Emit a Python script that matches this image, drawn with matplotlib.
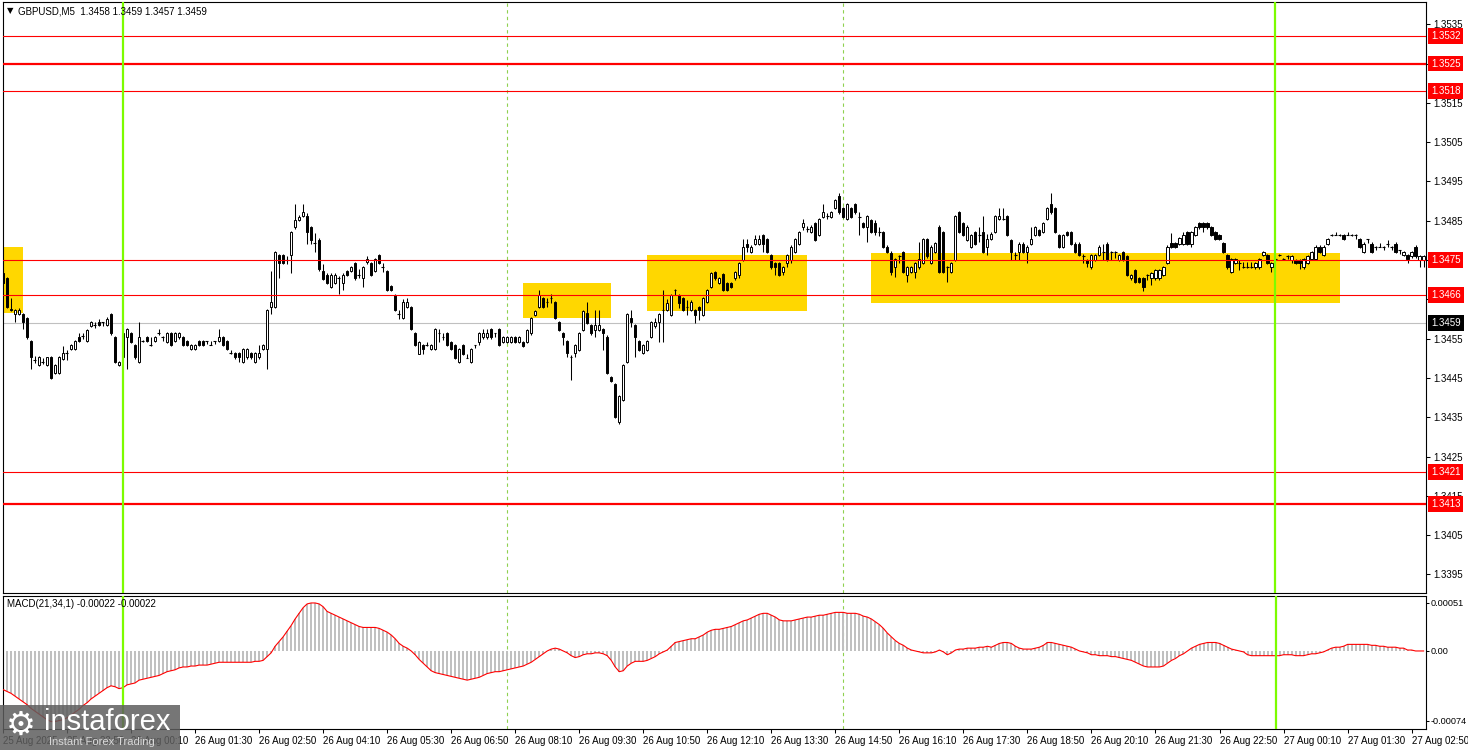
import numpy as np
import matplotlib
matplotlib.use("Agg")
import matplotlib.pyplot as plt
from matplotlib.patches import Rectangle

plt.rcParams['font.family'] = ['Liberation Sans', 'DejaVu Sans']

# GBPUSD M5 candles, prices in pips above 1.3400 (one value per candle)
opens = [
    71.6, 70.3, 62.5, 61.3, 61.3, 61.3, 60.2, 54.4, 49.6, 48.3,
    49.1, 48.3, 50.2, 46.2, 46.2, 49.9, 51.3, 52.3, 52.4, 55.5,
    55.7, 54.4, 58.2, 58.5, 59.2, 59.1, 58.5, 61.3, 55.3, 48.3,
    50.2, 55.3, 56.3, 53.3, 49.1, 54.4, 55.3, 53.4, 54.4, 56.3,
    55.3, 54.2, 56.3, 54.4, 55.3, 55.3, 54.4, 52.4, 52.4, 54.4,
    54.4, 54.4, 53.4, 54.4, 54.4, 55.3, 54.4, 51.3, 51.3, 51.3,
    49.1, 50.2, 51.3, 49.1, 50.2, 52.4, 52.4, 63.1, 63.1, 76.3,
    76.3, 75.0, 76.3, 83.3, 85.3, 86.2, 86.2, 83.3, 79.4, 80.2,
    72.2, 71.3, 68.2, 69.2, 70.3, 69.2, 72.2, 72.2, 74.3, 71.3,
    70.3, 74.4, 74.2, 72.2, 76.3, 73.3, 72.2, 68.4, 66.1, 61.2,
    60.2, 63.1, 63.1, 56.3, 51.1, 53.3, 53.3, 52.3, 52.3, 56.3,
    55.5, 56.3, 54.2, 53.3, 49.1, 53.3, 50.1, 49.1, 53.3, 54.2,
    55.3, 55.3, 57.4, 56.3, 57.4, 54.2, 54.2, 54.2, 55.3, 54.2,
    54.2, 54.2, 56.3, 61.0, 63.1, 65.3, 64.4, 65.3, 64.2, 59.3,
    56.3, 54.4, 50.2, 51.3, 52.1, 57.2, 61.4, 58.5, 57.2, 57.2,
    57.4, 55.5, 45.2, 43.4, 33.9, 39.4, 49.1, 60.2, 58.5, 54.4,
    51.3, 52.1, 55.5, 58.1, 59.1, 62.3, 62.3, 61.0, 67.4, 66.1,
    65.3, 63.1, 62.3, 62.3, 63.1, 61.0, 64.4, 68.2, 72.0, 69.1,
    71.4, 69.1, 69.2, 70.3, 71.2, 75.0, 79.2, 77.1, 79.2, 79.2,
    81.4, 80.3, 76.3, 74.2, 74.2, 72.0, 74.2, 75.0, 77.1, 79.2,
    83.5, 83.0, 82.2, 84.3, 81.4, 86.0, 86.2, 86.0, 88.2, 91.3,
    88.2, 85.4, 88.2, 89.2, 86.0, 84.3, 83.3, 85.2, 84.3, 82.2,
    82.2, 78.4, 76.9, 73.2, 75.9, 77.1, 71.2, 72.0, 72.0, 73.1,
    74.2, 80.3, 74.2, 77.1, 83.5, 82.2, 73.1, 72.0, 75.0, 87.1,
    84.3, 80.1, 78.4, 82.2, 81.4, 82.2, 78.4, 80.3, 82.2, 85.4,
    85.4, 86.2, 80.1, 76.3, 77.1, 79.2, 77.1, 79.2, 81.4, 82.6,
    82.2, 85.4, 89.2, 88.2, 81.4, 78.4, 82.2, 82.2, 79.2, 79.2,
    75.9, 75.0, 73.1, 75.0, 76.3, 77.1, 79.2, 77.1, 77.1, 75.0,
    77.1, 75.9, 70.3, 72.5, 70.3, 70.3, 71.2, 70.3, 70.3, 70.3,
    71.2, 74.2, 79.4, 79.4, 79.2, 79.2, 82.2, 79.2, 81.4, 84.3,
    84.3, 84.3, 83.3, 82.2, 81.4, 79.4, 76.3, 72.0, 74.2, 74.2,
    73.1, 73.1, 73.1, 73.1, 73.1, 76.3, 76.3, 73.1, 75.2, 76.3,
    75.2, 76.0, 75.0, 75.0, 75.0, 73.1, 74.2, 75.2, 75.2, 78.4,
    76.3, 79.2, 81.4, 81.4, 81.4, 81.4, 81.4, 81.4, 81.4, 80.3,
    77.1, 80.3, 79.2, 78.4, 78.4, 78.4, 79.2, 78.4, 79.2, 77.5,
    76.3, 76.3, 75.9, 78.4, 75.0, 75.0]
highs = [
    72.5, 70.6, 65.3, 62.6, 62.8, 61.6, 60.5, 54.7, 50.5, 50.5,
    50.0, 50.4, 50.5, 48.6, 50.5, 53.1, 52.1, 53.6, 54.7, 56.3,
    56.5, 57.5, 59.4, 59.3, 59.9, 59.2, 60.4, 61.6, 55.6, 49.4,
    56.6, 57.7, 56.6, 53.6, 59.3, 54.7, 55.6, 55.3, 55.6, 57.4,
    55.6, 56.6, 56.6, 56.6, 56.6, 55.6, 54.7, 53.7, 53.7, 54.7,
    54.7, 54.5, 54.3, 54.5, 57.4, 55.6, 54.7, 52.1, 51.6, 51.6,
    52.6, 52.6, 51.6, 51.6, 53.4, 53.7, 62.6, 72.3, 77.4, 76.6,
    76.6, 76.0, 82.5, 89.2, 86.5, 89.2, 87.0, 83.6, 81.8, 80.5,
    74.0, 71.6, 71.6, 71.6, 71.0, 71.6, 72.5, 73.4, 74.6, 72.8,
    73.4, 76.0, 74.5, 75.5, 76.6, 74.3, 72.5, 68.7, 66.4, 62.2,
    65.2, 65.3, 63.4, 56.6, 54.5, 53.6, 54.2, 53.6, 57.7, 57.4,
    56.3, 56.6, 54.5, 53.6, 52.6, 53.6, 51.2, 52.6, 53.5, 56.6,
    57.4, 57.4, 57.7, 56.4, 57.7, 55.6, 55.6, 55.6, 55.6, 55.6,
    54.5, 57.5, 60.5, 62.4, 67.4, 65.6, 65.3, 66.3, 64.5, 59.6,
    56.6, 54.7, 50.8, 53.7, 56.6, 62.4, 64.2, 58.8, 62.3, 62.3,
    57.7, 55.8, 45.5, 43.7, 40.7, 48.6, 61.6, 62.3, 58.8, 54.7,
    53.7, 54.7, 59.6, 60.2, 61.6, 67.4, 65.0, 66.4, 67.6, 66.4,
    65.6, 64.8, 64.7, 62.6, 63.4, 65.6, 67.7, 71.9, 72.3, 70.6,
    71.7, 69.4, 69.5, 72.3, 74.5, 80.3, 80.3, 78.7, 81.4, 81.4,
    81.7, 80.6, 76.6, 74.5, 74.5, 73.4, 76.6, 78.7, 80.6, 82.5,
    85.4, 83.6, 83.8, 84.6, 85.7, 89.2, 87.0, 87.4, 90.6, 92.0,
    88.5, 89.5, 88.5, 89.5, 87.3, 84.6, 86.5, 85.5, 85.2, 83.5,
    82.5, 78.7, 77.2, 75.5, 76.3, 77.4, 73.4, 73.4, 74.5, 79.7,
    80.6, 80.6, 78.7, 79.7, 83.8, 82.5, 73.4, 74.5, 86.5, 87.4,
    84.6, 83.8, 81.7, 82.5, 83.5, 86.2, 81.6, 82.0, 86.5, 88.2,
    88.2, 86.5, 80.4, 77.1, 79.5, 79.5, 78.7, 83.5, 83.6, 82.9,
    84.6, 88.5, 92.1, 88.5, 81.7, 81.7, 82.5, 82.5, 79.5, 79.5,
    76.5, 75.3, 76.6, 76.6, 78.7, 79.2, 79.5, 77.4, 77.4, 76.6,
    77.4, 76.2, 71.5, 72.8, 70.6, 70.6, 71.5, 71.9, 72.8, 72.8,
    73.4, 78.7, 81.8, 79.7, 80.8, 82.2, 82.5, 82.5, 83.6, 84.6,
    84.6, 84.6, 83.6, 82.5, 81.7, 79.7, 76.6, 75.5, 75.5, 75.0,
    74.5, 74.5, 74.5, 74.5, 75.5, 77.4, 76.6, 74.5, 75.4, 76.5,
    75.4, 76.2, 76.2, 75.3, 75.3, 75.5, 76.3, 77.4, 78.7, 78.7,
    78.7, 80.6, 81.6, 82.2, 81.6, 81.7, 82.2, 81.6, 81.5, 80.6,
    79.5, 80.4, 79.5, 78.5, 79.3, 78.5, 80.0, 78.5, 79.5, 77.6,
    77.4, 76.6, 77.4, 78.7, 76.2, 76.2]
lows = [
    68.8, 62.8, 62.0, 59.2, 61.0, 57.4, 55.0, 47.2, 48.7, 48.0,
    48.5, 48.0, 44.8, 46.0, 46.0, 49.6, 49.6, 52.0, 52.1, 54.1,
    54.8, 54.1, 58.0, 57.8, 58.2, 58.2, 58.2, 56.0, 48.8, 48.0,
    49.9, 47.2, 53.9, 49.9, 48.8, 54.1, 54.1, 53.1, 54.1, 56.0,
    54.4, 53.9, 53.1, 54.1, 55.0, 53.1, 53.1, 52.1, 52.1, 53.1,
    53.1, 53.6, 53.3, 53.6, 54.1, 53.1, 52.1, 51.2, 49.9, 49.1,
    48.8, 49.9, 49.9, 48.8, 49.9, 52.1, 47.2, 61.3, 62.8, 70.3,
    73.9, 74.0, 71.6, 83.0, 85.0, 85.9, 79.2, 79.0, 77.1, 72.3,
    69.8, 68.9, 67.9, 68.9, 66.3, 67.4, 71.0, 71.9, 70.0, 70.3,
    68.2, 74.1, 71.0, 71.9, 74.0, 72.0, 67.1, 67.1, 62.0, 60.1,
    59.9, 62.8, 57.1, 53.0, 51.0, 51.2, 53.0, 52.0, 52.0, 54.2,
    54.7, 53.0, 52.0, 49.8, 48.8, 50.8, 50.0, 48.8, 52.5, 53.3,
    55.0, 55.0, 55.0, 55.5, 53.0, 53.9, 53.9, 53.9, 53.9, 53.9,
    52.8, 53.9, 56.0, 60.7, 62.8, 62.8, 63.1, 64.0, 59.9, 56.9,
    53.4, 50.4, 44.5, 50.2, 51.8, 56.9, 58.6, 56.0, 55.5, 56.9,
    52.1, 45.9, 44.0, 34.8, 33.3, 39.1, 48.8, 58.0, 50.2, 51.8,
    51.0, 51.8, 55.2, 57.8, 54.2, 54.2, 62.0, 60.7, 66.0, 62.7,
    62.0, 61.0, 62.0, 58.9, 59.7, 60.7, 64.0, 67.9, 70.0, 68.8,
    67.1, 67.1, 67.9, 70.0, 70.5, 74.7, 77.1, 76.8, 78.9, 78.9,
    77.1, 76.8, 72.8, 71.2, 70.9, 71.2, 73.1, 74.2, 76.8, 78.9,
    82.7, 82.2, 81.9, 79.8, 81.1, 85.7, 85.5, 85.7, 87.9, 86.8,
    85.7, 85.1, 85.7, 86.8, 81.4, 83.2, 79.7, 81.9, 81.4, 81.0,
    78.1, 76.8, 71.2, 70.8, 74.2, 71.7, 69.5, 71.7, 70.3, 72.8,
    73.9, 75.6, 73.9, 76.8, 71.7, 71.7, 69.5, 71.7, 74.7, 81.9,
    81.1, 79.8, 78.1, 78.9, 79.7, 76.8, 76.3, 80.0, 81.9, 85.1,
    85.1, 81.1, 75.0, 75.0, 75.0, 76.8, 74.2, 78.9, 81.1, 81.1,
    81.9, 85.1, 86.8, 81.9, 78.1, 78.1, 81.1, 78.9, 76.8, 76.0,
    74.2, 73.1, 72.8, 74.7, 76.0, 75.0, 74.7, 75.0, 75.5, 74.7,
    74.7, 70.9, 70.0, 69.2, 69.2, 67.2, 69.8, 68.6, 70.0, 70.0,
    70.9, 73.9, 78.1, 78.1, 78.9, 78.9, 78.9, 78.4, 81.1, 83.0,
    82.2, 83.0, 81.1, 80.0, 80.0, 76.8, 72.8, 71.7, 73.9, 72.5,
    73.0, 73.0, 73.0, 72.8, 72.8, 76.0, 73.9, 72.0, 75.0, 76.1,
    75.0, 75.2, 74.2, 73.9, 72.8, 72.8, 73.9, 74.9, 74.9, 76.8,
    76.0, 78.9, 81.2, 81.3, 81.2, 80.0, 81.3, 81.2, 80.3, 78.1,
    76.8, 79.4, 76.8, 77.5, 78.3, 77.5, 78.4, 77.5, 76.8, 76.6,
    76.0, 74.2, 75.6, 75.6, 73.1, 73.1]
closes = [
    69.1, 63.1, 62.3, 62.3, 62.3, 59.2, 55.3, 50.2, 49.5, 50.2,
    49.1, 50.2, 45.1, 48.3, 50.2, 51.3, 51.3, 53.3, 54.4, 54.4,
    55.7, 57.2, 59.1, 58.5, 58.5, 59.1, 59.9, 56.3, 49.1, 49.1,
    56.3, 57.4, 54.2, 50.2, 55.3, 54.4, 54.4, 53.4, 55.3, 56.3,
    55.3, 56.3, 53.4, 56.3, 56.3, 53.4, 53.4, 53.4, 53.4, 53.4,
    53.4, 54.4, 53.4, 54.4, 55.3, 53.4, 52.4, 51.3, 50.2, 50.2,
    52.3, 52.3, 50.2, 51.3, 51.3, 53.4, 62.3, 64.4, 77.1, 74.2,
    74.2, 75.0, 82.2, 85.3, 86.0, 87.2, 82.2, 80.1, 79.4, 72.6,
    70.1, 69.2, 71.3, 71.3, 70.3, 71.3, 71.3, 73.1, 70.3, 71.3,
    73.1, 75.3, 71.3, 75.2, 74.3, 73.3, 67.4, 67.4, 62.3, 61.2,
    64.2, 64.2, 57.4, 53.3, 54.2, 52.3, 53.3, 53.3, 57.4, 56.3,
    55.5, 53.3, 52.3, 50.1, 52.3, 51.1, 50.1, 52.3, 53.3, 56.3,
    56.3, 56.3, 55.3, 56.3, 53.3, 55.3, 55.3, 55.3, 54.2, 55.3,
    53.1, 57.2, 60.2, 62.1, 66.1, 63.1, 64.4, 65.3, 60.2, 57.2,
    55.5, 51.3, 50.2, 53.4, 56.3, 62.1, 58.9, 56.3, 58.5, 58.5,
    56.3, 46.2, 44.3, 35.1, 40.4, 48.3, 61.3, 59.2, 55.5, 52.1,
    53.4, 54.4, 59.3, 59.3, 61.3, 62.3, 64.0, 66.1, 67.4, 64.0,
    62.3, 63.1, 64.4, 61.0, 62.3, 65.3, 67.4, 71.6, 70.3, 70.3,
    67.4, 67.4, 68.2, 72.0, 74.2, 78.4, 78.2, 78.4, 80.3, 80.3,
    79.2, 77.1, 73.1, 73.1, 71.2, 73.1, 76.3, 78.4, 80.3, 82.2,
    84.3, 83.0, 83.5, 80.1, 85.4, 87.1, 86.2, 87.1, 90.3, 87.1,
    86.0, 89.2, 86.0, 87.1, 86.0, 83.5, 86.2, 82.2, 82.2, 82.2,
    78.4, 77.1, 72.0, 75.2, 75.9, 72.0, 73.1, 73.1, 74.2, 75.2,
    80.3, 75.9, 78.4, 79.4, 72.0, 72.0, 73.1, 74.2, 86.2, 82.2,
    81.4, 83.5, 81.4, 79.2, 81.4, 77.1, 80.3, 81.6, 86.2, 86.2,
    85.4, 81.4, 77.1, 76.3, 79.2, 77.1, 78.4, 80.3, 83.3, 81.4,
    84.3, 88.2, 87.1, 82.2, 78.4, 81.4, 81.4, 79.2, 77.1, 76.3,
    75.9, 74.2, 76.3, 76.3, 78.4, 77.1, 75.0, 77.1, 77.1, 76.3,
    75.0, 71.2, 71.2, 69.5, 69.5, 68.2, 71.2, 71.6, 72.5, 72.5,
    73.1, 78.4, 78.4, 78.4, 80.5, 81.4, 79.2, 82.2, 83.3, 83.3,
    83.5, 83.3, 81.4, 80.3, 80.3, 77.1, 73.1, 75.2, 75.2, 74.2,
    73.1, 73.1, 73.1, 74.2, 75.2, 77.1, 74.2, 74.2, 75.2, 76.3,
    75.2, 76.0, 75.9, 74.2, 74.2, 75.2, 76.0, 77.1, 78.4, 77.1,
    78.4, 80.3, 81.4, 81.4, 81.4, 80.3, 81.4, 81.4, 81.4, 78.4,
    79.2, 80.3, 77.1, 78.4, 78.4, 78.4, 79.2, 78.4, 77.1, 77.5,
    77.1, 75.2, 77.1, 75.9, 75.9, 75.9]

# MACD(21,34,1) histogram, units of 0.00001
macd = [
    -41, -43, -45, -48, -51, -54, -57, -61, -64, -67,
    -70, -73, -75, -75, -74, -73, -71, -68, -65, -62,
    -58, -55, -51, -48, -45, -42, -39, -37, -38, -40,
    -39, -36, -35, -34, -31, -30, -29, -28, -27, -26,
    -24, -22, -21, -20, -18, -17, -17, -16, -16, -15,
    -15, -15, -14, -13, -12, -12, -12, -12, -12, -12,
    -12, -12, -12, -11, -11, -10, -6, -2, 5, 10,
    15, 21, 27, 34, 40, 46, 50, 51, 51, 50,
    47, 42, 40, 38, 36, 34, 32, 30, 28, 26,
    25, 25, 25, 25, 24, 22, 20, 17, 13, 8,
    5, 3, 0, -4, -9, -13, -17, -21, -23, -24,
    -25, -26, -27, -28, -29, -30, -31, -30, -29, -28,
    -26, -24, -23, -22, -22, -21, -20, -19, -18, -17,
    -16, -14, -12, -9, -6, -3, 0, 2, 3, 2,
    0, -2, -5, -7, -6, -4, -3, -3, -2, -2,
    -3, -5, -10, -17, -22, -21, -16, -13, -11, -11,
    -11, -10, -8, -6, -3, -1, 1, 5, 9, 10,
    11, 12, 13, 13, 15, 17, 20, 22, 23, 23,
    24, 25, 26, 28, 30, 32, 33, 35, 37, 39,
    40, 40, 38, 36, 33, 32, 32, 32, 33, 34,
    35, 36, 36, 37, 38, 38, 39, 40, 41, 41,
    41, 40, 40, 40, 39, 37, 36, 34, 31, 28,
    24, 19, 15, 11, 8, 6, 3, 1, 0, -1,
    -2, -2, -2, -1, 1, -1, -4, -2, 1, 2,
    2, 3, 3, 3, 4, 4, 5, 4, 6, 8,
    9, 9, 8, 5, 3, 2, 2, 2, 3, 4,
    6, 9, 9, 8, 7, 6, 5, 4, 2, 0,
    -1, -2, -4, -4, -5, -5, -5, -6, -6, -7,
    -8, -9, -10, -12, -14, -16, -17, -17, -17, -17,
    -16, -13, -10, -8, -5, -3, 0, 3, 5, 7,
    8, 9, 9, 9, 8, 6, 4, 2, 1, 0,
    -1, -4, -5, -5, -5, -5, -5, -5, -5, -5,
    -4, -4, -4, -5, -5, -5, -4, -3, -3, -2,
    -1, 1, 3, 4, 4, 5, 7, 7, 7, 7,
    7, 7, 6, 6, 5, 5, 4, 4, 4, 3,
    3, 1, 1, 0, 0, 0]

# time axis labels (every 16 candles = 80 min)
tick_pos = list(range(0, 353, 16))
tick_labels = ["25 Aug 2025", "25 Aug 22:50", "26 Aug 00:10", "26 Aug 01:30",
               "26 Aug 02:50", "26 Aug 04:10", "26 Aug 05:30", "26 Aug 06:50",
               "26 Aug 08:10", "26 Aug 09:30", "26 Aug 10:50", "26 Aug 12:10",
               "26 Aug 13:30", "26 Aug 14:50", "26 Aug 16:10", "26 Aug 17:30",
               "26 Aug 18:50", "26 Aug 20:10", "26 Aug 21:30", "26 Aug 22:50",
               "27 Aug 00:10", "27 Aug 01:30", "27 Aug 02:50"]

levels = [1.3532, 1.3525, 1.3518, 1.3475, 1.3466, 1.3421, 1.3413]
thick_levels = [1.3525, 1.3413]
bid = 1.3459
day_lines = [30, 318]        # candle index of 26 Aug 00:00 and 27 Aug 00:00
session_lines = [126, 210]   # 08:00 and 15:00
zone_start = [0, 130, 161, 217]
zone_end = [5, 152, 201, 334]
zone_top = [78.4, 69.2, 76.3, 76.9]
zone_bottom = [61.4, 60.3, 62.1, 64.0]

base = 1.34
pip = 1e-4
o = base + np.array(opens) * pip
h = base + np.array(highs) * pip
l = base + np.array(lows) * pip
c = base + np.array(closes) * pip
m = np.array(macd) * 1e-5
k = np.arange(len(o))

W, H = 1468, 750
fig = plt.figure(figsize=(W / 100, H / 100), dpi=100)
fig.patch.set_facecolor('white')


def box(x0, y0, x1, y1):
    return [x0 / W, 1 - y1 / H, (x1 - x0) / W, (y1 - y0) / H]


ax = fig.add_axes(box(3, 2, 1426, 593))
ax2 = fig.add_axes(box(3, 596, 1426, 729))

# main panel
for x0, x1, t, b in zip(zone_start, zone_end, zone_top, zone_bottom):
    ax.add_patch(Rectangle((x0, base + b * pip), x1 - x0, (t - b) * pip,
                           facecolor='#ffd700', edgecolor='none', zorder=1))
ax.axhline(bid, color='#c0c0c0', lw=0.8, zorder=1.5)

ax.vlines(k, l, h, color='black', lw=0.75, zorder=3)
doji = np.isclose(o, c)
cols = np.where(c > o, 'white', 'black')
ax.bar(k[~doji], (c - o)[~doji], bottom=o[~doji], width=0.55,
       color=cols[~doji], edgecolor='black', linewidth=0.7, zorder=4)
ax.hlines(o[doji], k[doji] - 0.35, k[doji] + 0.35, color='black', lw=0.8, zorder=4)

for lv in levels:
    ax.axhline(lv, color='red', lw=1.6 if lv in thick_levels else 0.8, zorder=5)
    ax.text(1.0035, lv, f"{lv:.4f}", transform=ax.get_yaxis_transform(),
            color='white', fontsize=7, va='center', ha='left', zorder=6, clip_on=False,
            bbox=dict(boxstyle='square,pad=0.3', fc='red', ec='none'))
ax.text(1.0035, bid, f"{bid:.4f}", transform=ax.get_yaxis_transform(),
        color='white', fontsize=7, va='center', ha='left', zorder=6, clip_on=False,
        bbox=dict(boxstyle='square,pad=0.3', fc='black', ec='none'))

for a in (ax, ax2):
    for x in day_lines:
        a.axvline(x, color='#7cfc00', lw=1.6, zorder=6)
    for x in session_lines:
        a.axvline(x, color='#8fd14f', lw=0.8, ls=(0, (3, 3)), zorder=2)
    a.set_xlim(0.1, 355.6)
    for s in a.spines.values():
        s.set_linewidth(0.8)
    a.yaxis.tick_right()

ax.tick_params(axis='y', length=3, width=0.75, pad=2, labelsize=7)
ax.set_ylim(1.339027, 1.354065)
yt = np.arange(13395, 13536, 10) / 1e4
ax.set_yticks(yt)
ax.set_yticklabels([f"{v:.4f}" for v in yt])
ax.set_xticks([])

# MACD panel
ax2.bar(k, m, width=0.5, color='#c0c0c0', zorder=2)
ax2.plot(k, m, color='red', lw=0.8, zorder=3)
ax2.set_ylim(-0.000829, 0.000584)
ax2.set_yticks([0.00051, 0.0, -0.00074])
ax2.set_yticklabels(['0.00051', '0.00', '-0.00074'])
ax2.tick_params(axis='y', length=2, width=0.75, pad=1, labelsize=6.6)
ax2.set_xticks(tick_pos)
ax2.set_xticklabels(tick_labels)
ax2.tick_params(axis='x', length=3, width=0.75, pad=2, labelsize=7)
for t in ax2.get_xticklabels():
    t.set_ha('left')

# header texts
fig.text(7 / W, 1 - 11 / H, '\u25bc', fontsize=6, va='center', family=['DejaVu Sans'])
fig.text(18 / W, 1 - 11 / H, 'GBPUSD,M5  1.3458 1.3459 1.3457 1.3459',
         fontsize=7, va='center')
fig.text(7 / W, 1 - 604 / H, 'MACD(21,34,1) -0.00022 -0.00022', fontsize=7, va='center')

# watermark
fig.add_artist(Rectangle((0, 0), 180 / W, 45 / H, transform=fig.transFigure,
                         facecolor='#5e5e5e', edgecolor='none', alpha=0.85, zorder=10))
fig.text(6 / W, 1 - 725 / H, '\u2699', fontsize=24, color='white', va='center',
         family=['DejaVu Sans'], zorder=11)
fig.text(44 / W, 1 - 722 / H, 'instaforex', fontsize=21, color='white', va='center',
         zorder=11)
fig.text(49 / W, 1 - 742 / H, 'Instant Forex Trading', fontsize=8, color='#d8d8d8',
         va='center', zorder=11)

fig.savefig('out.png', dpi=100, facecolor='white')
